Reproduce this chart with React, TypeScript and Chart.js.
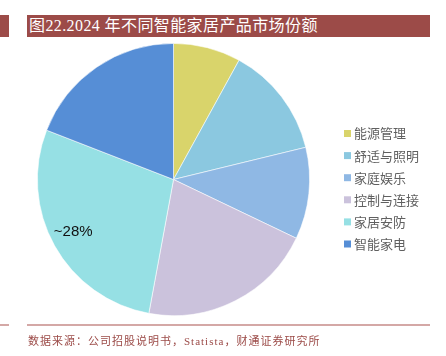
import React, { useEffect, useRef } from "react";
import { Chart, registerables } from "chart.js";

Chart.register(...registerables);

const titleText = "图22.2024 年不同智能家居产品市场份额";
const sourceText = "数据来源：公司招股说明书，Statista，财通证券研究所";
const categories = ["能源管理", "舒适与照明", "家庭娱乐", "控制与连接", "家居安防", "智能家电"];
const shares = [8.0, 13.2, 10.9, 20.8, 28.0, 19.1];
const sliceLabels = ["", "", "", "", "~28%", ""];
const colors = ["#D9D46B", "#8BC8E0", "#8FB8E4", "#CBC2DC", "#96E0E4", "#568ED6"];

const CJK = '"Noto Sans CJK SC", sans-serif';
const SERIF_CJK = '"Liberation Serif", "Noto Sans CJK SC", serif';

const labelPlugin = {
  id: "sliceLabel",
  afterDatasetsDraw(chart: any) {
    const ctx = chart.ctx;
    const meta = chart.getDatasetMeta(0);
    ctx.save();
    ctx.font = '15px "Liberation Sans", Arial, sans-serif';
    ctx.fillStyle = "#111111";
    ctx.textAlign = "center";
    ctx.textBaseline = "middle";
    meta.data.forEach((arc: any, i: number) => {
      const t = sliceLabels[i];
      if (!t) return;
      const p = arc.getProps(["x", "y", "startAngle", "endAngle", "outerRadius"], true);
      const mid = (p.startAngle + p.endAngle) / 2 + 0.03;
      const r = p.outerRadius * 0.83;
      ctx.fillText(t, p.x + Math.cos(mid) * r, p.y + Math.sin(mid) * r);
    });
    ctx.restore();
  },
};

const legendPlugin = {
  id: "sideLegend",
  afterDraw(chart: any) {
    const ctx = chart.ctx;
    const area = chart.chartArea;
    const x0 = area.right + 34;
    const y0 = 133.5;
    const step = 22.1;
    ctx.save();
    ctx.font = `13px ${CJK}`;
    ctx.textBaseline = "middle";
    ctx.textAlign = "left";
    categories.forEach((c, i) => {
      const y = y0 + i * step;
      ctx.fillStyle = colors[i];
      ctx.fillRect(x0, y - 3.5, 7, 7);
      ctx.fillStyle = "#606060";
      ctx.fillText(c, x0 + 10, y);
    });
    ctx.restore();
  },
};

function PieChart() {
  const ref = useRef<HTMLCanvasElement | null>(null);
  useEffect(() => {
    if (!ref.current) return;
    const chart = new Chart(ref.current, {
      type: "pie",
      data: {
        labels: categories,
        datasets: [
          {
            data: shares,
            backgroundColor: colors,
            borderColor: "rgba(255,255,255,0.7)",
            borderWidth: 0.8,
          },
        ],
      },
      options: {
        animation: false,
        responsive: false,
        maintainAspectRatio: false,
        layout: { padding: { left: 37, top: 43, right: 136, bottom: 40 } },
        plugins: {
          legend: { display: false },
          tooltip: { enabled: false },
        },
      },
      plugins: [labelPlugin, legendPlugin],
    });
    return () => chart.destroy();
  }, []);
  return (
    <canvas
      ref={ref}
      width={446}
      height={356}
      style={{ position: "absolute", left: 0, top: 0, width: 446, height: 356 }}
    />
  );
}

export default function App() {
  return (
    <div
      style={{
        position: "absolute",
        left: 0,
        top: 0,
        width: 446,
        height: 356,
        background: "#ffffff",
        overflow: "hidden",
      }}
    >
      <div style={{ position: "absolute", left: 0, top: 15, width: 9, height: 22, background: "#9C4B48" }} />
      <div
        style={{
          position: "absolute",
          left: 27,
          top: 15,
          width: 403,
          height: 22,
          background: "#9C4B48",
          color: "#ffffff",
          fontFamily: SERIF_CJK,
          fontSize: 16,
          lineHeight: "22px",
          letterSpacing: 0.4,
          paddingLeft: 2,
          boxSizing: "border-box",
          whiteSpace: "nowrap",
        }}
      >
        {titleText}
      </div>
      <PieChart />
      <div style={{ position: "absolute", left: 0, top: 324, width: 9, height: 2, background: "#D4A8A6" }} />
      <div style={{ position: "absolute", left: 27, top: 324, width: 403, height: 2, background: "#D4A8A6" }} />
      <div
        style={{
          position: "absolute",
          left: 28,
          top: 333,
          color: "#9C4B48",
          fontFamily: SERIF_CJK,
          fontSize: 11,
          lineHeight: "16px",
          letterSpacing: 1.0,
          whiteSpace: "nowrap",
        }}
      >
        {sourceText}
      </div>
    </div>
  );
}
